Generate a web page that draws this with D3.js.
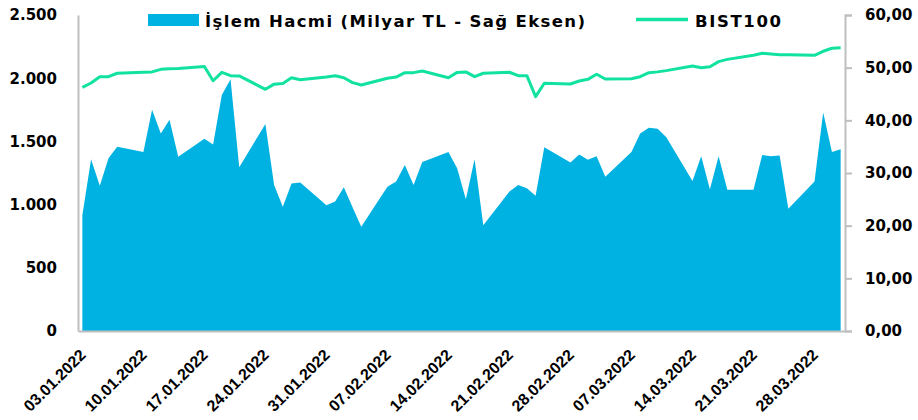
<!DOCTYPE html>
<html>
<head>
<meta charset="utf-8">
<script src="https://cdn.jsdelivr.net/npm/d3@7"></script>
<style>
  body { margin: 0; background: #fff; }
  .tick text { font-weight: bold; fill: #000; }
</style>
</head>
<body>
<div id="chart"></div>
<script>
// Trading days (dd.mm.yyyy)
var dates = [
  "03.01.2022","04.01.2022","05.01.2022","06.01.2022","07.01.2022",
  "10.01.2022","11.01.2022","12.01.2022","13.01.2022","14.01.2022",
  "17.01.2022","18.01.2022","19.01.2022","20.01.2022","21.01.2022",
  "24.01.2022","25.01.2022","26.01.2022","27.01.2022","28.01.2022",
  "31.01.2022","01.02.2022","02.02.2022","03.02.2022","04.02.2022",
  "07.02.2022","08.02.2022","09.02.2022","10.02.2022","11.02.2022",
  "14.02.2022","15.02.2022","16.02.2022","17.02.2022","18.02.2022",
  "21.02.2022","22.02.2022","23.02.2022","24.02.2022","25.02.2022",
  "28.02.2022","01.03.2022","02.03.2022","03.03.2022","04.03.2022",
  "07.03.2022","08.03.2022","09.03.2022","10.03.2022","11.03.2022",
  "14.03.2022","15.03.2022","16.03.2022","17.03.2022","18.03.2022",
  "21.03.2022","22.03.2022","23.03.2022","24.03.2022","25.03.2022",
  "28.03.2022","29.03.2022","30.03.2022","31.03.2022"
];

// BIST100 index (left axis)
var bist100 = [
  1928, 1962, 2012, 2012, 2039,
  2047, 2050, 2070, 2075, 2077,
  2092, 1980, 2046, 2020, 2018,
  1912, 1953, 1958, 2004, 1988,
  2009, 2020, 2004, 1965, 1946,
  1999, 2009, 2044, 2044, 2057,
  2004, 2046, 2050, 2012, 2039,
  2047, 2020, 2020, 1854, 1960,
  1954, 1978, 1991, 2031, 1994,
  1996, 2012, 2044, 2050, 2060,
  2096, 2083, 2090, 2131, 2149,
  2181, 2197, 2192, 2186, 2186,
  2181, 2213, 2237, 2240
];

// Trading volume, billion TL (right axis)
var volume = [
  22.0, 32.6, 27.6, 32.8, 35.0,
  34.0, 42.0, 37.5, 40.1, 33.1,
  36.5, 35.4, 44.8, 47.8, 31.1,
  39.3, 27.7, 23.6, 28.0, 28.2,
  23.9, 24.6, 27.3, 23.5, 19.8,
  27.4, 28.4, 31.5, 27.7, 32.1,
  34.0, 30.9, 25.0, 32.6, 20.1,
  26.5, 27.7, 27.1, 25.7, 34.9,
  32.0, 33.5, 32.5, 33.2, 29.3,
  34.0, 37.5, 38.6, 38.4, 36.8,
  28.5, 33.2, 26.9, 33.2, 26.8,
  26.8, 33.4, 33.2, 33.3, 23.2,
  28.4, 41.5, 34.0, 34.5
];

// Axis ticks
var leftTicks = [0, 500, 1000, 1500, 2000, 2500];
var rightTicks = [0, 10, 20, 30, 40, 50, 60];
var xTickLabels = ["03.01.2022","10.01.2022","17.01.2022","24.01.2022","31.01.2022",
  "07.02.2022","14.02.2022","21.02.2022","28.02.2022","07.03.2022","14.03.2022",
  "21.03.2022","28.03.2022"];

var volumeName = "İşlem Hacmi (Milyar TL - Sağ Eksen)";
var indexName = "BIST100";

var areaColor = "#00b2e2";
var lineColor = "#12e29f";
var axisColor = "#bfbfbf";

// SVG area
var svgWidth = 918;
var svgHeight = 420;

var margin = { top: 15, right: 73, bottom: 89, left: 78 };
var chartWidth = svgWidth - margin.left - margin.right;
var chartHeight = svgHeight - margin.top - margin.bottom;

var svg = d3.select("#chart")
  .append("svg")
  .attr("width", svgWidth)
  .attr("height", svgHeight);

var chartGroup = svg.append("g")
  .attr("transform", `translate(${margin.left}, ${margin.top})`);

var parseDate = d3.utcParse("%d.%m.%Y");
var formatDate = d3.utcFormat("%d.%m.%Y");

var data = dates.map(function(d, i) {
  return { date: parseDate(d), bist: bist100[i], vol: volume[i] };
});

// half a day of padding on each side, like a date axis
var halfDay = 12 * 3600 * 1000;
var xScale = d3.scaleUtc()
  .domain([new Date(parseDate(dates[0]).getTime() - halfDay),
           new Date(parseDate(dates[dates.length - 1]).getTime() + halfDay)])
  .range([0, chartWidth]);

var yLeft = d3.scaleLinear().domain([0, 2500]).range([chartHeight, 0]);
var yRight = d3.scaleLinear().domain([0, 60]).range([chartHeight, 0]);

// Turkish number formats
var trLocale = d3.formatLocale({ decimal: ",", thousands: ".", grouping: [3], currency: ["", ""] });

// volume area
var area = d3.area()
  .x(d => xScale(d.date))
  .y0(chartHeight)
  .y1(d => yRight(d.vol));

chartGroup.append("path")
  .datum(data)
  .attr("fill", areaColor)
  .attr("d", area);

// BIST100 line
var line = d3.line()
  .x(d => xScale(d.date))
  .y(d => yLeft(d.bist));

chartGroup.append("path")
  .datum(data)
  .attr("fill", "none")
  .attr("stroke", lineColor)
  .attr("stroke-width", 3)
  .attr("stroke-linejoin", "round")
  .attr("d", line);

// left axis
var leftAxis = chartGroup.append("g")
  .call(d3.axisLeft(yLeft).tickValues(leftTicks).tickSize(0).tickPadding(21)
    .tickFormat(trLocale.format(",")));
leftAxis.select(".domain").attr("stroke", axisColor).attr("stroke-width", 2);
leftAxis.selectAll("text")
  .attr("font-family", "DejaVu Sans")
  .attr("font-size", "15px");

// right axis
var rightAxis = chartGroup.append("g")
  .attr("transform", `translate(${chartWidth}, 0)`)
  .call(d3.axisRight(yRight).tickValues(rightTicks).tickSize(7).tickPadding(13)
    .tickFormat(trLocale.format(".2f")));
rightAxis.select(".domain").attr("stroke", axisColor).attr("stroke-width", 2);
rightAxis.selectAll("line").attr("stroke", axisColor).attr("stroke-width", 2);
rightAxis.selectAll("text")
  .attr("font-family", "DejaVu Sans")
  .attr("font-size", "15px");

// bottom axis
var bottomAxis = chartGroup.append("g")
  .attr("transform", `translate(0, ${chartHeight})`)
  .call(d3.axisBottom(xScale).tickValues(xTickLabels.map(parseDate)).tickSize(0)
    .tickFormat(formatDate));
bottomAxis.select(".domain").attr("stroke", axisColor).attr("stroke-width", 2);
bottomAxis.selectAll("text")
  .attr("font-family", "Liberation Sans")
  .attr("font-size", "16px")
  .attr("text-anchor", "end")
  .attr("y", 0)
  .attr("dy", 0)
  .attr("transform", "translate(4, 25) rotate(-45)");

// legend
var legend = svg.append("g");

legend.append("rect")
  .attr("x", 148)
  .attr("y", 14)
  .attr("width", 51)
  .attr("height", 12)
  .attr("fill", areaColor);

legend.append("text")
  .attr("x", 205)
  .attr("y", 26.5)
  .attr("font-family", "DejaVu Sans")
  .attr("font-weight", "bold")
  .attr("font-size", "16.5px")
  .attr("textLength", 380)
  .attr("lengthAdjust", "spacing")
  .text(volumeName);

legend.append("line")
  .attr("x1", 636)
  .attr("x2", 688)
  .attr("y1", 19.5)
  .attr("y2", 19.5)
  .attr("stroke", lineColor)
  .attr("stroke-width", 3.5);

legend.append("text")
  .attr("x", 695)
  .attr("y", 26.5)
  .attr("font-family", "DejaVu Sans")
  .attr("font-weight", "bold")
  .attr("font-size", "16.5px")
  .attr("textLength", 86)
  .attr("lengthAdjust", "spacing")
  .text(indexName);
</script>
</body>
</html>
